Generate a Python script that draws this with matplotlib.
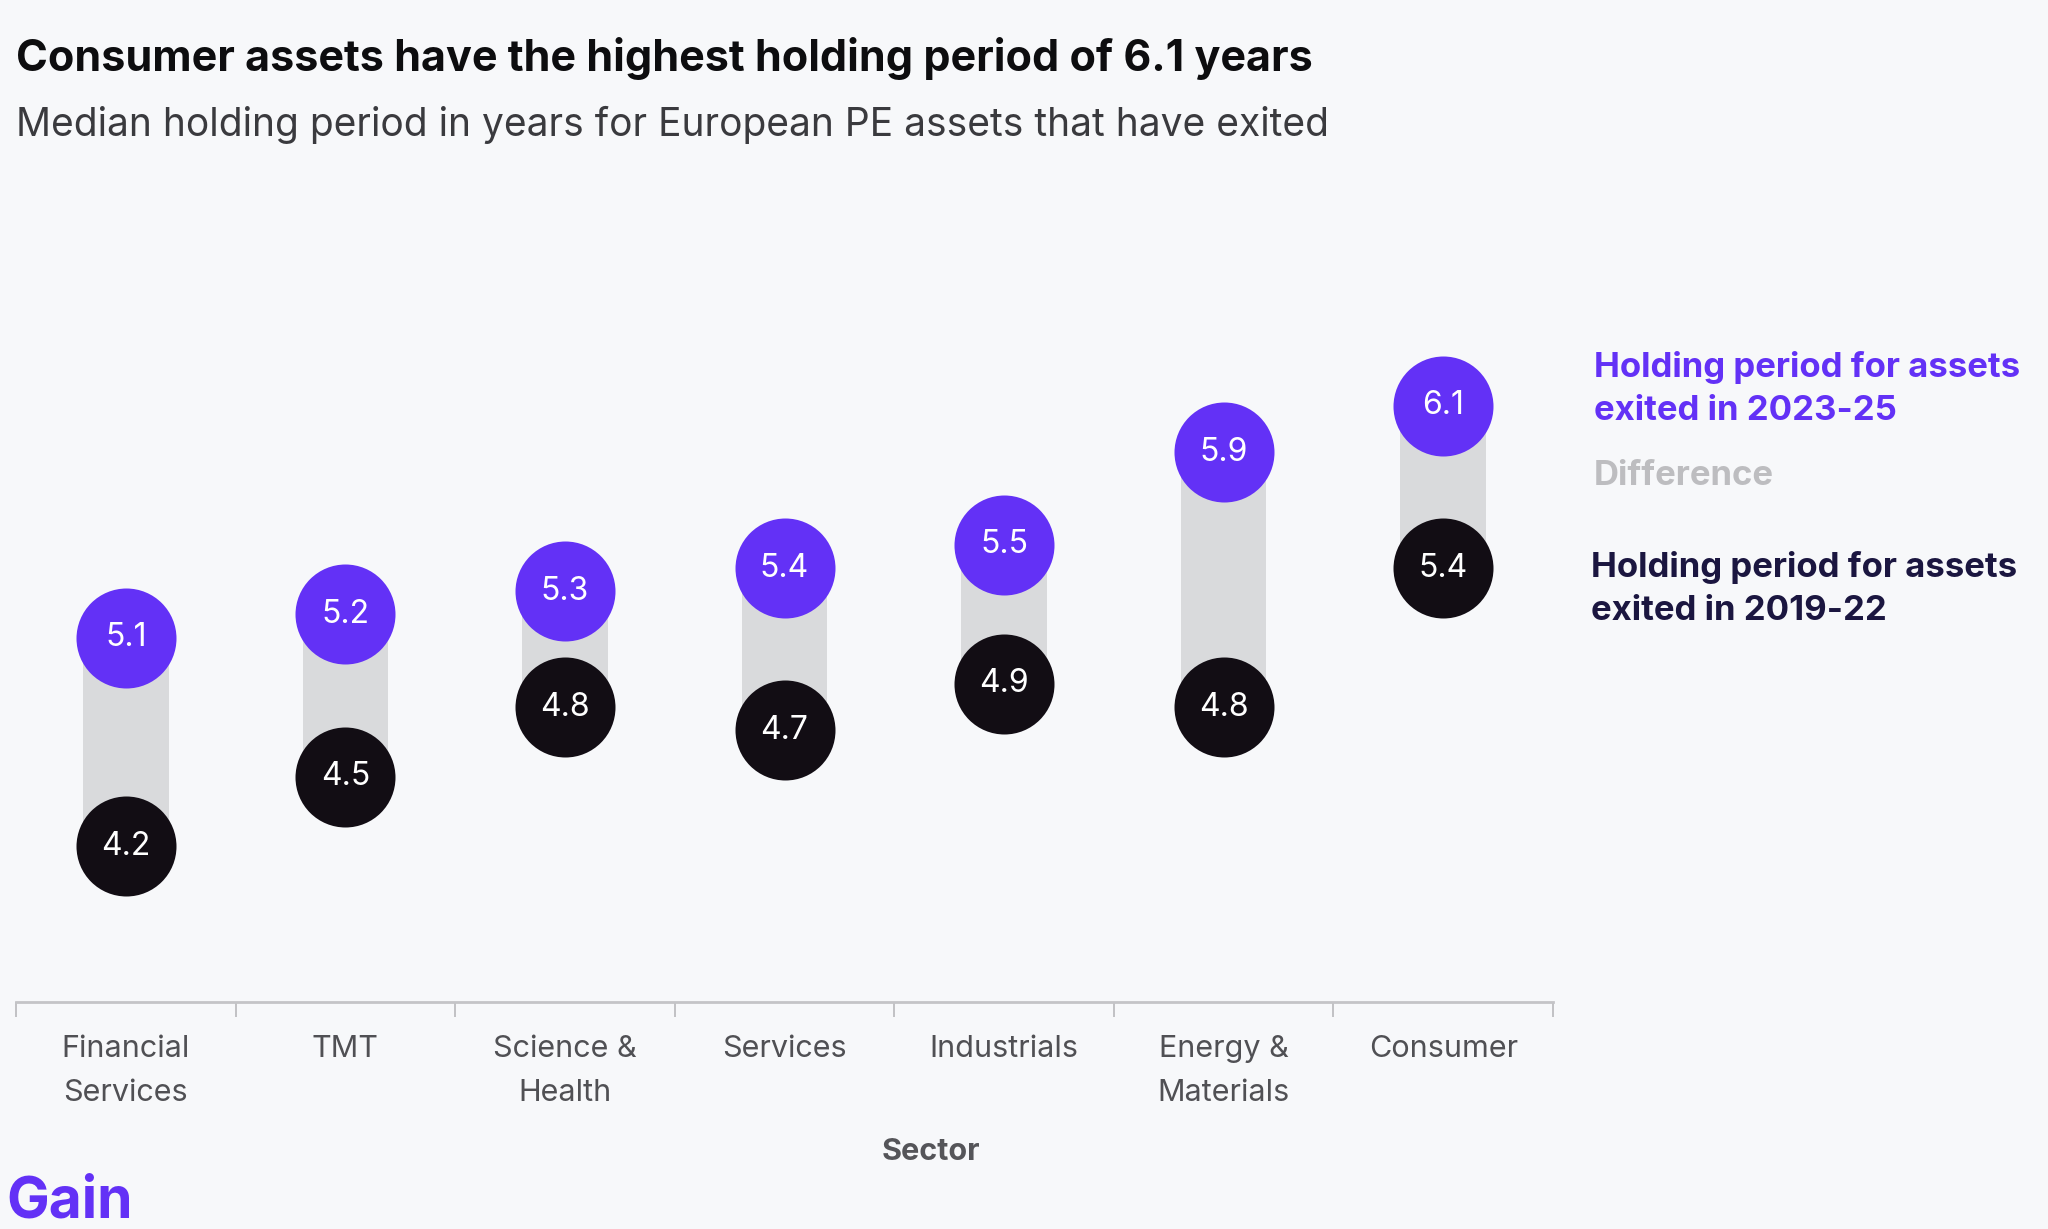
import matplotlib.pyplot as plt

sectors = ["Financial\nServices", "TMT", "Science &\nHealth", "Services",
           "Industrials", "Energy &\nMaterials", "Consumer"]
period_2019_22 = [4.2, 4.5, 4.8, 4.7, 4.9, 4.8, 5.4]
period_2023_25 = [5.1, 5.2, 5.3, 5.4, 5.5, 5.9, 6.1]

bg = "#f7f8fa"
purple = "#6331f6"
black = "#120d14"
grey = "#d9dadc"

plt.rcParams["font.family"] = ["Inter", "DejaVu Sans"]

fig = plt.figure(figsize=(20.48, 12.29), dpi=100, facecolor=bg)
ax = fig.add_axes([16 / 2048, 1 - 1002 / 1229, (1553 - 16) / 2048, (1002 - 170) / 1229])
ax.set_facecolor(bg)

x = list(range(len(sectors)))
ax.bar(x, [h - l for h, l in zip(period_2023_25, period_2019_22)],
       bottom=period_2019_22, width=0.39, color=grey, zorder=1)
ax.scatter(x, period_2019_22, s=72**2, color=black, zorder=3, linewidths=0)
ax.scatter(x, period_2023_25, s=72**2, color=purple, zorder=3, linewidths=0)
for xi, lo, hi in zip(x, period_2019_22, period_2023_25):
    ax.text(xi, lo, f"{lo:.1f}", color="white", fontsize=23, ha="center", va="center", zorder=4)
    ax.text(xi, hi, f"{hi:.1f}", color="white", fontsize=23, ha="center", va="center", zorder=4)

ax.set_xlim(-0.5, len(sectors) - 0.5)
ax.set_ylim(3.527, 7.118)
ax.set_yticks([])
ax.set_xticks([i - 0.5 for i in range(len(sectors) + 1)])
ax.set_xticklabels([])
ax.set_xticks(x, minor=True)
ax.set_xticklabels(sectors, minor=True, fontsize=22, color="#505054", linespacing=1.7)
ax.tick_params(axis="x", which="major", length=11, width=1.2, color="#b8b8bb", direction="out")
ax.tick_params(axis="x", which="minor", length=0, pad=24)
for s in ["top", "right", "left"]:
    ax.spines[s].set_visible(False)
ax.spines["bottom"].set_color("#c4c4c7")
ax.spines["bottom"].set_linewidth(2)

fig.text(16 / 2048, 1 - 59 / 1229, "Consumer assets have the highest holding period of 6.1 years",
         fontsize=31, fontweight="bold", color="#0d0d0f", va="center")
fig.text(16 / 2048, 1 - 125 / 1229, "Median holding period in years for European PE assets that have exited",
         fontsize=28, color="#3a3a3e", va="center")

fig.text(1594 / 2048, 1 - 389 / 1229, "Holding period for assets\nexited in 2023-25",
         fontsize=25, fontweight="bold", color=purple, va="center", linespacing=1.4)
fig.text(1594 / 2048, 1 - 476 / 1229, "Difference",
         fontsize=25, fontweight="bold", color="#bdbdc0", va="center")
fig.text(1591 / 2048, 1 - 589 / 1229, "Holding period for assets\nexited in 2019-22",
         fontsize=25, fontweight="bold", color="#1b1640", va="center", linespacing=1.4)

fig.text(931 / 2048, 1 - 1152 / 1229, "Sector", fontsize=22, fontweight="bold",
         color="#555559", ha="center", va="center")
fig.text(6 / 2048, 1 - 1202 / 1229, "Gain", fontsize=41, fontweight="bold",
         color=purple, va="center")

fig.savefig("out.png", dpi=100, facecolor=bg)
